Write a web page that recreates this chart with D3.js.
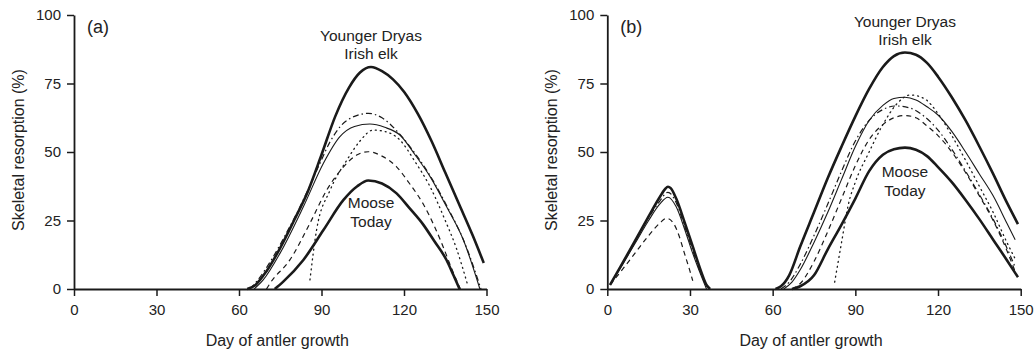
<!DOCTYPE html>
<html>
<head>
<meta charset="utf-8">
<script src="https://cdn.jsdelivr.net/npm/d3@7"></script>
<style>
  body { margin: 0; background: #fff; }
  svg text { font-family: "Liberation Sans", Arial, sans-serif; fill: #222; }
</style>
</head>
<body>
<svg id="chart" width="1036" height="351"></svg>
<script>
// x ticks and y ticks
const xTicks = [0, 30, 60, 90, 120, 150];
const yTicks = [0, 25, 50, 75, 100];

// panel (a) curves, [day, resorption %]
const a_elk = [[63,0],[66,1.5],[70,6.5],[75,15],[80,25],[85,35.5],[90,49],[95,63],[100,73.5],[104,79],[108,81],[112,79.5],[116,76.5],[120,72],[125,64],[130,54],[135,42.5],[140,31],[145,19.5],[149,9.5]];
const a_dashdot = [[64,0],[67,3.5],[72,11],[77,20],[81,27.6],[85,36],[89.5,46],[93,53.5],[97,59.5],[102,63],[107,64.1],[112,62.5],[118,57],[124,49.5],[130,40.5],[136,29.5],[142,17],[148,0]];
const a_thin = [[65.5,0],[68.8,3.3],[74.9,13],[83.4,30],[90.7,45.9],[96.7,55.6],[102,59.3],[107.6,60.2],[113,59],[118.5,56.2],[124,49],[129.5,41],[135.5,30],[141.6,17.9],[147.6,0]];
const a_dotted = [[85.8,3.3],[88.2,21.5],[93.1,36],[99.2,47],[104,54],[108.8,58],[113,57.5],[118.5,54.4],[124,46.5],[129.5,37.3],[135,25],[139,15],[143,2]];
const a_dashed = [[70,0],[71.3,2.1],[78.5,10.6],[85.8,24],[91.9,36.1],[98,44.6],[103,49],[107,50.1],[112,48.5],[117.3,44.6],[122,38.5],[127,31],[131,23],[134,16],[137.5,7],[140.5,0]];
const a_moose = [[73,0],[76.1,2.7],[83.4,10.6],[90.7,21.5],[98,32.5],[103,37.5],[107,39.6],[112,38.5],[117.3,34.9],[122,29.5],[127,23.5],[131,17.5],[135.5,10.5],[138,5],[140.2,0]];

// panel (b) curves, early peak + main peak
const b_elk_early = [[1,1.5],[5,8.5],[10,17.5],[15,26.5],[19,33.5],[21,36.5],[22,37.3],[23,36.8],[25,33],[28,24.5],[31,15.5],[34,6.5],[36,1.5],[37.3,0]];
const b_dashdot_early = [[1,1.5],[5,8.5],[10,17.5],[15,26],[19,32],[22,35.3],[25,31.5],[28,23],[31,14],[34,5.5],[36.5,0]];
const b_thin_early = [[1,1.5],[5,8],[10,16.5],[15,25],[19,31],[22,33.5],[25,30],[28,22],[31,13],[34,5],[36,0]];
const b_dashed_early = [[1,1.5],[5,6.5],[10,13],[15,19.5],[19,24],[21.5,25.8],[24,24],[26,19.5],[28,13],[30,6.5],[31,3]];

const b_elk = [[61,0],[63,1],[66,5],[70,15.5],[75,28],[80,40.5],[85,52],[90,63],[95,73],[100,81],[104,85],[108,86.3],[112,85.5],[116,82.5],[120,77.5],[125,70],[130,61.5],[135,52],[140,42],[145,31.5],[149,23.7]];
const b_dashdot = [[63,0],[66,2.5],[70,9],[75,19.5],[80,31],[85,43],[90,54],[95,61.5],[100,65.5],[105,66.8],[110,66],[115,63],[120,58],[125,51],[130,43],[135,34.5],[140,25.5],[145,15],[148,8]];
const b_thin = [[64,0],[67,2.5],[70,7],[75,17],[80,28],[85,40],[90,52],[95,61.5],[100,67],[104,69.5],[108,70],[112,69],[116,66.5],[120,63.5],[125,57.5],[130,50],[135,42],[140,34],[145,24],[148,18]];
const b_dotted = [[82.5,2.5],[85,17],[87.5,31],[90,39],[95,50],[100,60],[105,67.5],[110,70.8],[115,69.5],[120,64],[125,56],[130,47],[135,37.5],[140,28],[145,17],[148,11]];
const b_dashed = [[67,0],[70,2],[75,10],[80,21],[85,33],[90,45],[95,54.5],[100,60],[104,62.5],[108,63.3],[112,62.5],[116,59.5],[120,56],[125,50],[130,42.5],[135,34],[140,25],[145,14],[148.5,5]];
const b_moose = [[67,0],[70,1],[75,5],[80,14.5],[85,23.5],[90,33],[95,43],[100,49],[104,51],[108,51.6],[112,50.8],[116,48.5],[120,44.5],[125,39],[130,32.5],[135,25.5],[140,18],[145,10.5],[149,4.3]];

// line styles
const styles = {
  thick:   { w: 2.6, dash: null },
  thin:    { w: 1.1, dash: null },
  dashed:  { w: 1.2, dash: "5,4" },
  dashdot: { w: 1.2, dash: "6,3,1.5,3" },
  dotted:  { w: 1.3, dash: "1,4" }
};

const svg = d3.select("#chart");

function drawPanel(x0, x1, tag, series, yd, moose) {
  const x = d3.scaleLinear().domain([0, 150]).range([x0, x1]);
  const y = d3.scaleLinear().domain([0, 100]).range([289, 15]);
  const g = svg.append("g");

  // curves
  const line = d3.line()
    .x(d => x(d[0]))
    .y(d => y(d[1]))
    .curve(d3.curveMonotoneX);

  series.forEach(s => {
    const st = styles[s.style];
    g.append("path")
      .attr("d", line(s.data))
      .attr("fill", "none")
      .attr("stroke", "#1a1a1a")
      .attr("stroke-width", st.w)
      .attr("stroke-linecap", s.style === "dotted" ? "round" : "butt")
      .attr("stroke-dasharray", st.dash);
  });

  // axes
  const yAxis = g.append("g")
    .attr("transform", `translate(${x0},0)`)
    .call(d3.axisLeft(y).tickValues(yTicks).tickSize(7).tickSizeOuter(0).tickPadding(6));
  const xAxis = g.append("g")
    .attr("transform", "translate(0,289)")
    .call(d3.axisBottom(x).tickValues(xTicks).tickSize(7).tickSizeOuter(0).tickPadding(8));
  [yAxis, xAxis].forEach(ax => {
    ax.select(".domain").attr("stroke", "#1a1a1a").attr("stroke-width", 1.8);
    ax.selectAll(".tick line").attr("stroke", "#1a1a1a").attr("stroke-width", 1.5);
    ax.selectAll("text").attr("font-size", 15).attr("fill", "#222")
      .attr("font-family", "Liberation Sans, Arial, sans-serif");
  });

  // axis titles
  g.append("text")
    .attr("x", (x0 + x1) / 2 - 3)
    .attr("y", 346)
    .attr("text-anchor", "middle")
    .attr("font-size", 16)
    .text("Day of antler growth");
  g.append("text")
    .attr("transform", `translate(${x0 - 50},150) rotate(-90)`)
    .attr("text-anchor", "middle")
    .attr("font-size", 16)
    .text("Skeletal resorption (%)");

  // panel tag
  g.append("text")
    .attr("x", x0 + 13)
    .attr("y", 33)
    .attr("font-size", 18)
    .text(tag);

  // curve labels
  const cx = x(108);
  g.append("text").attr("x", cx).attr("y", yd).attr("text-anchor", "middle")
    .attr("font-size", 15.5).text("Younger Dryas");
  g.append("text").attr("x", cx).attr("y", yd + 18).attr("text-anchor", "middle")
    .attr("font-size", 15.5).text("Irish elk");
  g.append("text").attr("x", cx).attr("y", moose).attr("text-anchor", "middle")
    .attr("font-size", 15.5).text("Moose");
  g.append("text").attr("x", cx).attr("y", moose + 19).attr("text-anchor", "middle")
    .attr("font-size", 15.5).text("Today");
}

drawPanel(74, 486.5, "(a)", [
  { data: a_dotted, style: "dotted" },
  { data: a_dashed, style: "dashed" },
  { data: a_dashdot, style: "dashdot" },
  { data: a_thin, style: "thin" },
  { data: a_moose, style: "thick" },
  { data: a_elk, style: "thick" }
], 41, 208);

drawPanel(607.3, 1020.7, "(b)", [
  { data: b_dashed_early, style: "dashed" },
  { data: b_dashdot_early, style: "dashdot" },
  { data: b_thin_early, style: "thin" },
  { data: b_elk_early, style: "thick" },
  { data: b_dotted, style: "dotted" },
  { data: b_dashed, style: "dashed" },
  { data: b_dashdot, style: "dashdot" },
  { data: b_thin, style: "thin" },
  { data: b_moose, style: "thick" },
  { data: b_elk, style: "thick" }
], 27, 177);
</script>
</body>
</html>
